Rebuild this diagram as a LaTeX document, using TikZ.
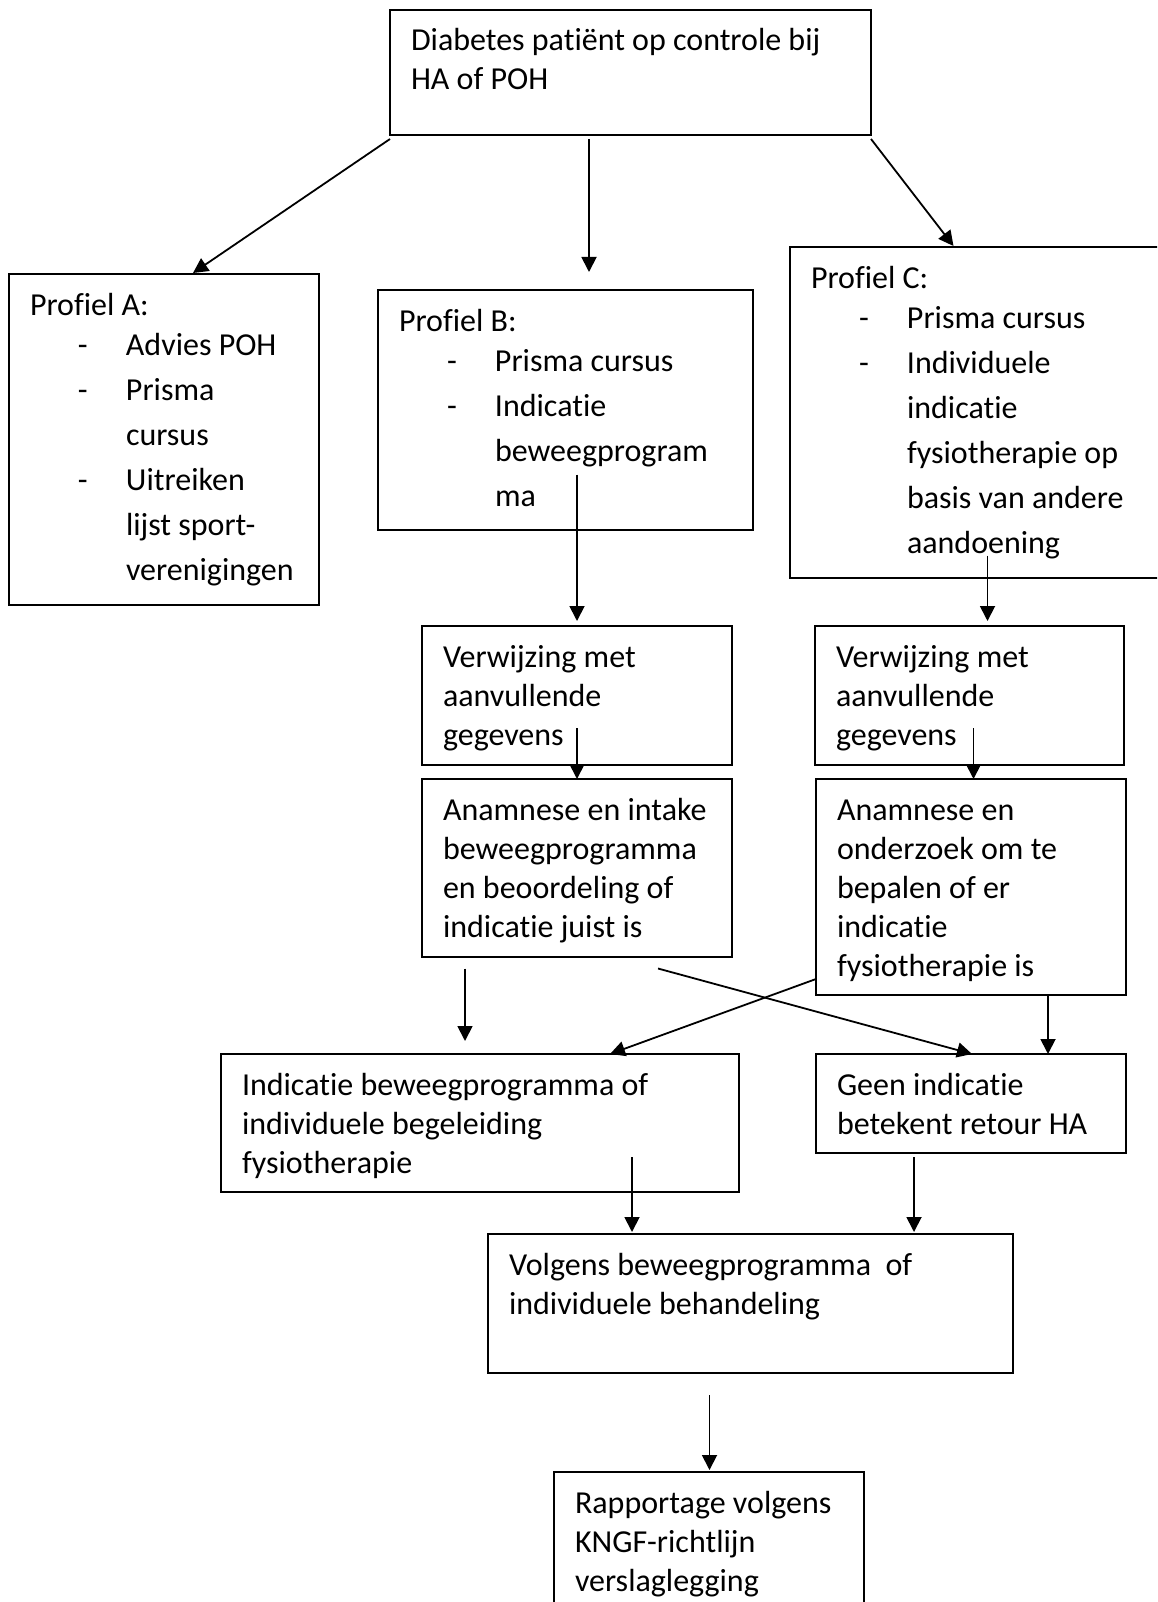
\documentclass[tikz,border=0pt]{standalone}
\usepackage{fontspec}
\setmainfont{Carlito}[Ligatures=NoCommon]
\usepackage{tikz}
\usetikzlibrary{arrows.meta}
\tikzstyle{block} = [rectangle, draw, line width=1.8pt, inner sep=0pt, outer sep=0pt,
    anchor=north west, font=\fontsize{32}{39}\selectfont]
\tikzstyle{line} = [draw, line width=1.8pt, -{Triangle[length=15pt,width=15pt]}]
% box text: width, height, lines
\newcommand{\boxtxt}[3]{\parbox[c][#2][t]{#1}{\raggedright\leftskip=21pt\rule{0pt}{41pt}#3}}
\newcommand{\dashitem}[1]{\makebox[96pt][l]{\hspace*{48pt}-}#1}
\newcommand{\contline}[1]{\hspace*{96pt}#1}

\begin{document}
\begin{tikzpicture}[x=1pt, y=-1pt]
            \useasboundingbox (0,0) rectangle (1157,1602);
            \clip (0,0) rectangle (1157,1602);
            % Place nodes
            \node [block] (diab) at (390,10) {\boxtxt{481pt}{125pt}{Diabetes patiënt op controle bij\\HA of POH}};
            \node [block] (profA) at (9,274) {\boxtxt{310pt}{331pt}{Profiel A:\\[1.5pt]
                \dashitem{Advies POH}\\[6pt]\dashitem{Prisma}\\[6pt]\contline{cursus}\\[6pt]
                \dashitem{Uitreiken}\\[6pt]\contline{lijst sport-}\\[6pt]\contline{verenigingen}}};
            \node [block] (profB) at (378,290) {\boxtxt{375pt}{240pt}{Profiel B:\\[1.5pt]
                \dashitem{Prisma cursus}\\[6pt]\dashitem{Indicatie}\\[6pt]\contline{beweegprogram}\\[6pt]\contline{ma}}};
            \node [block] (profC) at (790,247) {\boxtxt{380pt}{331pt}{Profiel C:\\[1.5pt]
                \dashitem{Prisma cursus}\\[6pt]\dashitem{Individuele}\\[6pt]\contline{indicatie}\\[6pt]
                \contline{fysiotherapie op}\\[6pt]\contline{basis van andere}\\[6pt]\contline{aandoening}}};
            \node [block] (verwB) at (422,626) {\boxtxt{310pt}{139pt}{Verwijzing met\\aanvullende\\gegevens}};
            \node [block] (verwC) at (815,626) {\boxtxt{309pt}{139pt}{Verwijzing met\\aanvullende\\gegevens}};
            \node [block] (anamB) at (422,779) {\boxtxt{310pt}{178pt}{Anamnese en intake\\beweegprogramma\\en beoordeling of\\indicatie juist is}};
            \node [block] (anamC) at (816,779) {\boxtxt{310pt}{216pt}{Anamnese en\\onderzoek om te\\bepalen of er\\indicatie\\fysiotherapie is}};
            \node [block] (indic) at (221,1054) {\boxtxt{518pt}{138pt}{Indicatie beweegprogramma of\\individuele begeleiding\\fysiotherapie}};
            \node [block] (geen) at (816,1054) {\boxtxt{310pt}{99pt}{Geen indicatie\\betekent retour HA}};
            \node [block] (volg) at (488,1234) {\boxtxt{525pt}{139pt}{Volgens beweegprogramma\ \ of\\individuele behandeling}};
            \node [block] (rapp) at (554,1472) {\boxtxt{310pt}{160pt}{Rapportage volgens\\KNGF-richtlijn\\verslaglegging}};

            % Draw edges
            \path [line] ([yshift=-4pt]diab.south west) -- ([xshift=29pt,yshift=1pt]profA.north);
            \path [line] ([xshift=-41.5pt,yshift=-4pt]diab.south) -- ([xshift=23.5pt,yshift=18pt]profB.north);
            \path [line] ([yshift=-4pt]diab.south east) -- ([xshift=-26.5pt,yshift=1pt]profC.north);

            \path [line] ([xshift=11.5pt,yshift=55.5pt]profB.south) -- ([yshift=5pt]verwB.north);
            \path [line] ([xshift=7.5pt,yshift=22.5pt]profC.south) -- ([xshift=18pt,yshift=5pt]verwC.north);
            \path [line] ([yshift=37pt]verwB.south) -- (anamB.north);
            \path [line] ([xshift=4pt,yshift=37pt]verwC.south) -- ([xshift=2.5pt]anamC.north);

            \path [line] ([xshift=-112pt,yshift=-11.5pt]anamB.south) -- ([xshift=-15pt,yshift=13pt]indic.north);
            \path [line] ([xshift=81pt,yshift=-11.5pt]anamB.south) -- ([xshift=1pt]geen.north);
            \path [line] ([yshift=-92pt]anamC.west) -- ([xshift=130pt]indic.north);
            \path [line] ([xshift=77pt]anamC.south) -- ([xshift=77pt]geen.north);

            \path [line] ([xshift=152pt,yshift=35pt]indic.south) -- ([xshift=-118.5pt,yshift=2pt]volg.north);
            \path [line] ([xshift=-57pt,yshift=-4pt]geen.south) -- ([xshift=163.5pt,yshift=2pt]volg.north);
            \path [line] ([xshift=-41pt,yshift=-22pt]volg.south) -- ([xshift=0.5pt,yshift=2pt]rapp.north);

\end{tikzpicture}
\end{document}
